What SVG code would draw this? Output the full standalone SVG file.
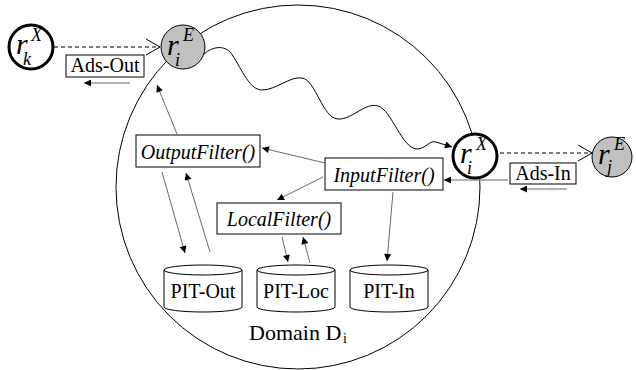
<svg xmlns="http://www.w3.org/2000/svg" width="636" height="370" viewBox="0 0 636 370">
<style>
text{font-family:'Liberation Serif','Times New Roman','DejaVu Serif',serif;fill:#000}
.lbl{font-size:20px}
.it{font-style:italic}
.rl{font-style:italic;font-size:30px}
.ss{font-style:italic;font-size:18px}
.box{fill:#fff;stroke:#000;stroke-width:1}
.cyl{fill:#fff;stroke:#000;stroke-width:1}
.ex{fill:#fff;stroke:#000;stroke-width:3}
.en{fill:#c0c0c0;stroke:#000;stroke-width:1}
.c{fill:none;stroke:#444;stroke-width:0.8;marker-end:url(#ah)}
.g{fill:none;stroke:#999;stroke-width:1.5;marker-end:url(#ah)}
.d{fill:none;stroke:#000;stroke-width:1;stroke-dasharray:4,3;marker-end:url(#oa)}
.w{fill:none;stroke:#000;stroke-width:1;marker-end:url(#ah)}
</style>
<defs>
<marker id="ah" viewBox="0 0 10 10" refX="10" refY="5" markerWidth="9" markerHeight="7" markerUnits="userSpaceOnUse" orient="auto"><path d="M0,0 L10,5 L0,10 z" fill="#000"/></marker>
<marker id="oa" viewBox="0 0 16 18" refX="15" refY="9" markerWidth="16" markerHeight="18" markerUnits="userSpaceOnUse" orient="auto"><path d="M1,1 L15,9 L1,17" fill="none" stroke="#000" stroke-width="1"/></marker>
</defs>
<g id="domain">
<circle cx="298" cy="187" r="182" fill="none" stroke="#000" stroke-width="1"/>
<text font-family="Liberation Serif, DejaVu Serif, serif" x="249" y="340" font-size="22">Domain D</text>
<text font-family="Liberation Serif, DejaVu Serif, serif" x="343" y="343" font-size="14">i</text>
</g>
<g id="connectors">
<path class="d" d="M54,47 L160,47"/>
<path class="d" d="M500,153 L592,153"/>
<path class="g" d="M130,83 L84,83"/>
<path class="g" d="M567,189 L520,189"/>
<path class="g" d="M508,180 L444,180"/>
<path class="w" d="M203,55 C210,48 222,44 230,52 C240,64 248,90 262,90 C276,90 290,76 302,78 C316,80 322,118 338,119 C352,120 365,102 378,106 C392,110 402,150 418,149 C426,148 430,140 436,142 L452,147"/>
<path class="c" d="M177,134 L157,85"/>
<path class="c" d="M325,163 L262,148"/>
<path class="c" d="M323,177 L277,200"/>
<path class="c" d="M393,192 L387,261"/>
<path class="c" d="M162,172 L185,253"/>
<path class="c" d="M210,252 L186,173"/>
<path class="c" d="M282,237 L288,262"/>
<path class="c" d="M310,263 L303,237"/>
</g>
<g id="rkX">
<circle class="ex" cx="31" cy="47" r="22"/>
<text class="rl" x="16" y="54">r</text>
<text class="ss" x="31" y="41">X</text>
<text class="ss" x="23" y="65">k</text>
</g>
<g id="riE">
<circle class="en" cx="183" cy="47" r="22"/>
<text class="rl" x="167" y="55">r</text>
<text class="ss" x="183" y="41">E</text>
<text class="ss" x="175" y="66">i</text>
</g>
<g id="riX">
<circle class="ex" cx="475" cy="156" r="22"/>
<text class="rl" x="460" y="163">r</text>
<text class="ss" x="476" y="150">X</text>
<text class="ss" x="467" y="174">i</text>
</g>
<g id="rjE">
<circle class="en" cx="612" cy="157" r="20"/>
<text class="rl" x="598" y="164">r</text>
<text class="ss" x="614" y="150">E</text>
<text class="ss" x="607" y="173">j</text>
</g>
<g id="adsOut">
<rect class="box" x="66" y="55" width="78" height="22"/>
<text class="lbl" x="105" y="72" text-anchor="middle">Ads-Out</text>
</g>
<g id="adsIn">
<rect class="box" x="510" y="163" width="66" height="21"/>
<text class="lbl" x="543" y="180" text-anchor="middle">Ads-In</text>
</g>
<g id="outputFilter">
<rect class="box" x="136" y="135" width="124" height="32"/>
<text class="lbl it" x="198" y="159" text-anchor="middle">OutputFilter()</text>
</g>
<g id="inputFilter">
<rect class="box" x="325" y="158" width="118" height="32"/>
<text class="lbl it" x="384" y="182" text-anchor="middle">InputFilter()</text>
</g>
<g id="localFilter">
<rect class="box" x="217" y="203" width="124" height="31"/>
<text class="lbl it" x="279" y="226" text-anchor="middle">LocalFilter()</text>
</g>
<g id="pitOut">
<path class="cyl" d="M164,270 L164,307 A39,5 0 0 0 242,307 L242,270 A39,5 0 0 0 164,270 A39,5 0 0 0 242,270"/>
<text class="lbl" x="203" y="298" text-anchor="middle">PIT-Out</text>
</g>
<g id="pitLoc">
<path class="cyl" d="M257,270 L257,307 A39,5 0 0 0 335,307 L335,270 A39,5 0 0 0 257,270 A39,5 0 0 0 335,270"/>
<text class="lbl" x="296" y="298" text-anchor="middle">PIT-Loc</text>
</g>
<g id="pitIn">
<path class="cyl" d="M350,270 L350,307 A39,5 0 0 0 428,307 L428,270 A39,5 0 0 0 350,270 A39,5 0 0 0 428,270"/>
<text class="lbl" x="389" y="298" text-anchor="middle">PIT-In</text>
</g>
</svg>
